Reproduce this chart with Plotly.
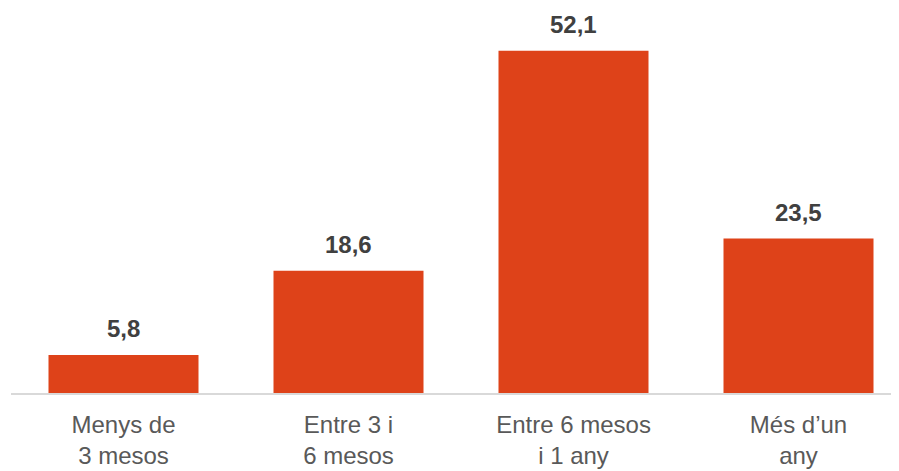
import plotly.graph_objects as go

# categories and values
categories = ["Menys de<br>3 mesos", "Entre 3 i<br>6 mesos", "Entre 6 mesos<br>i 1 any", "Més d’un<br>any"]
values = [5.8, 18.6, 52.1, 23.5]

bar_color = "#DE4219"

fig = go.Figure()
fig.add_trace(go.Bar(
    x=list(range(len(categories))),
    y=values,
    marker=dict(color=bar_color, line=dict(width=0)),
    width=150 / 225,
    hoverinfo="skip",
))

# value labels above the bars
for i, v in enumerate(values):
    fig.add_annotation(
        x=i, y=v, text="<b>%s</b>" % f"{v:.1f}".replace(".", ","),
        showarrow=False, yanchor="bottom", yshift=11,
        font=dict(family="Liberation Sans, Arial", size=24, color="#404040"),
    )

# the page body adds an 8px offset, so the figure is made 8px smaller to fit
fig.update_layout(
    width=891, height=463,
    margin=dict(l=3, r=0, t=4, b=78),
    paper_bgcolor="white", plot_bgcolor="white",
    showlegend=False,
    font=dict(family="Liberation Sans, Arial", color="#595959"),
    xaxis=dict(
        tickmode="array",
        tickvals=list(range(len(categories))),
        ticktext=categories,
        range=[-0.5, -0.5 + 888 / 225],
        showline=True, linecolor="#D9D9D9", linewidth=2,
        showgrid=False, zeroline=False, ticks="",
        ticklabelstandoff=9,
        tickfont=dict(size=24, color="#595959"),
    ),
    yaxis=dict(
        range=[0, 381 / 6.57],
        visible=False, showgrid=False, zeroline=False,
    ),
)

fig.write_html("out.html")
